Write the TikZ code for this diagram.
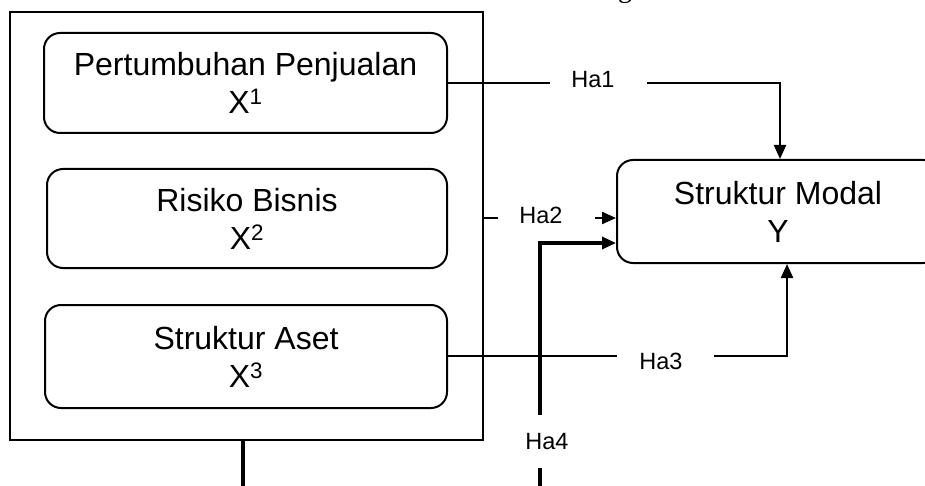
\documentclass[tikz,border=0pt]{standalone}
\usepackage{fontspec}
\setmainfont{Liberation Sans}
\newfontfamily\captionserif{Liberation Serif}
\usetikzlibrary{arrows.meta}
\begin{document}
\begin{tikzpicture}[x=1pt,y=-1pt,
  varbox/.style={draw, line width=2pt, rounded corners=16pt, align=center,
    font=\fontsize{32}{38}\selectfont, inner sep=0pt},
  frame/.style={draw, line width=2pt, inner sep=0pt},
  lbl/.style={font=\fontsize{23.5}{25}\selectfont, inner sep=0pt},
  link/.style={line width=2.2pt},
  heavy/.style={line width=3.2pt},
  tip/.style={-{Triangle[length=14pt,width=12pt]}}
]
\useasboundingbox (0,0) rectangle (925,486);
\clip (0,0) rectangle (925,486);

% caption line above, only its descender falls inside the page
\node[font=\captionserif\fontsize{28}{30}\selectfont, anchor=base, inner sep=0pt] (capg) at (625,-2) {g};

% independent variables inside a frame
\node[frame, minimum width=473pt, minimum height=428pt] (outer) at (246.5,226) {};
\node[varbox, minimum width=403pt, minimum height=100pt] (box1) at (245.5,83)
  {Pertumbuhan Penjualan\\X\textsuperscript{1}};
\node[varbox, minimum width=400pt, minimum height=99pt] (box2) at (247,218.5)
  {Risiko Bisnis\\X\textsuperscript{2}};
\node[varbox, minimum width=402pt, minimum height=103pt] (box3) at (246,356.5)
  {Struktur Aset\\X\textsuperscript{3}};

% dependent variable
\node[varbox, minimum width=322pt, minimum height=103pt] (modal) at (778,211.5)
  {Struktur Modal\\Y};

% hypothesis labels
\node[lbl] (ha1) at (593,80) {Ha1};
\node[lbl] (ha2) at (541,215) {Ha2};
\node[lbl] (ha3) at (661,361) {Ha3};
\node[lbl] (ha4) at (547,442) {Ha4};

% gap ends and bends of the connectors
\coordinate (g1a) at (550,83);
\coordinate (g1b) at (647,83);
\coordinate (b1) at (780,83);
\coordinate (g2a) at (498,218);
\coordinate (g2b) at (595,218);
\coordinate (g3a) at (617,356);
\coordinate (g3b) at (714,356);
\coordinate (b3) at (787,356);
\coordinate (e4) at (540,492);
\coordinate (g4a) at (540,468);
\coordinate (g4b) at (540,415);
\coordinate (b4) at (540,243);
\coordinate (e0) at (243,492);

% Ha1
\draw[link] (box1.east |- g1a) -- (g1a);
\draw[link,tip] (g1b) -- (b1) -- (b1 |- modal.north);
% Ha2
\draw[link] (outer.east |- g2a) -- (g2a);
\draw[link,tip] (g2b) -- (modal.west |- g2b);
% Ha3
\draw[link] (box3.east |- g3a) -- (g3a);
\draw[link,tip] (g3b) -- (b3) -- (b3 |- modal.south);
% Ha4 (simultaneous)
\draw[heavy] (e4) -- (g4a);
\draw[heavy,tip] (g4b) -- (b4) -- (modal.west |- b4);
\draw[heavy] (outer.south -| e0) -- (e0);
\end{tikzpicture}
\end{document}
